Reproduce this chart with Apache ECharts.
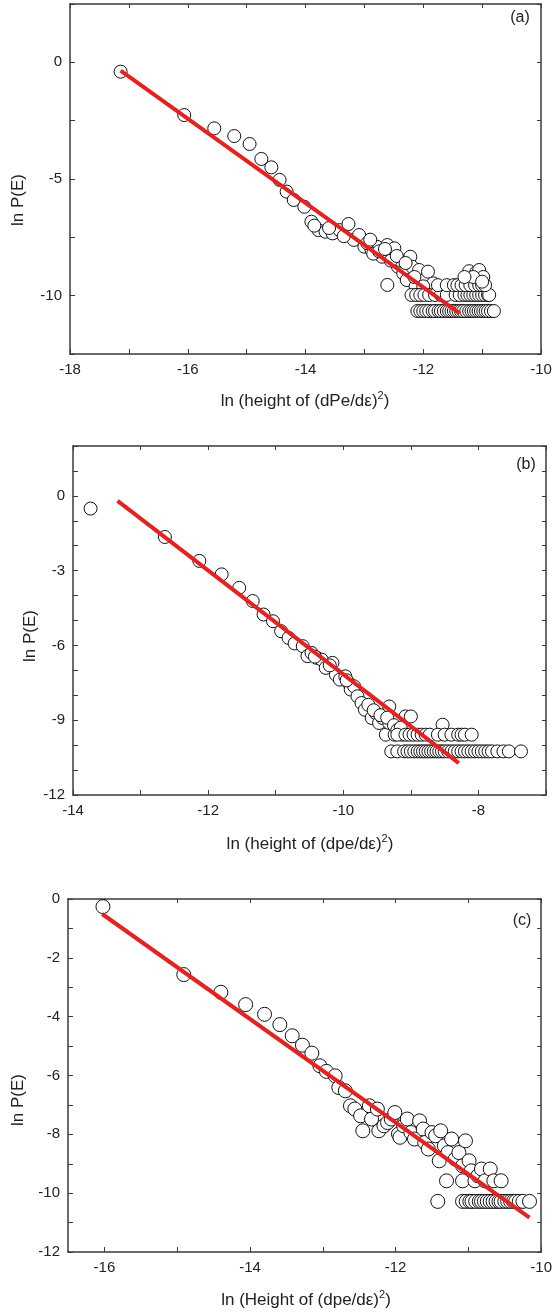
<!DOCTYPE html>
<html>
<head>
<meta charset="utf-8">
<script src="https://cdn.jsdelivr.net/npm/echarts@6/dist/echarts.min.js"></script>
<style>
html, body { margin: 0; background: #fff; }
#chart { width: 555px; height: 1314px; }
</style>
</head>
<body>
<div id="chart"></div>
<script>
// panel (a)
var pointsA = [
  [-17.14, -0.4], [-16.06, -2.26], [-15.55, -2.83], [-15.21, -3.16], [-14.95, -3.5],
  [-14.75, -4.14], [-14.58, -4.5], [-14.44, -5.04], [-14.32, -5.54], [-14.2, -5.9],
  [-14.02, -6.19], [-13.9, -6.83], [-13.78, -7.19], [-13.66, -7.26], [-13.54, -7.33],
  [-13.42, -7.19], [-13.27, -6.93], [-13.18, -7.61], [-13.09, -7.4], [-13.0, -7.9],
  [-12.88, -8.04], [-12.79, -7.9], [-12.7, -8.33], [-12.61, -7.83], [-12.61, -9.54],
  [-12.52, -8.19], [-12.49, -7.97], [-12.43, -8.76], [-12.4, -8.47], [-12.34, -9.04],
  [-12.28, -9.33], [-12.22, -8.33], [-12.19, -8.76], [-12.13, -9.61], [-12.07, -8.9],
  [-12.04, -9.9], [-11.98, -9.33], [-11.92, -8.97], [-11.89, -9.76], [-11.83, -9.47],
  [-11.77, -9.9], [-12.95, -7.75], [-12.85, -8.2], [-12.75, -8.1], [-12.55, -8.5],
  [-12.45, -8.3], [-12.3, -8.6], [-12.15, -9.2], [-12.0, -9.6], [-13.35, -7.45],
  [-13.6, -7.1], [-13.85, -7.0], [-12.9, -7.6], [-12.65, -8.0],
  [-12.2, -9.97], [-12.12, -9.97], [-12.05, -9.97], [-11.98, -9.97], [-11.9, -9.97],
  [-11.8, -9.97], [-11.7, -9.97], [-11.6, -9.97], [-11.45, -9.97], [-11.38, -9.97], [-11.3, -9.97],
  [-11.25, -9.97], [-11.2, -9.97], [-11.15, -9.97], [-11.1, -9.97], [-11.05, -9.97],
  [-11.0, -9.97], [-10.95, -9.97], [-10.9, -9.97], [-10.88, -9.97],
  [-11.75, -9.55], [-11.6, -9.55], [-11.48, -9.55], [-11.42, -9.55], [-11.35, -9.55],
  [-11.28, -9.55], [-11.2, -9.55], [-11.12, -9.55], [-11.05, -9.55], [-11.0, -9.55],
  [-10.95, -9.55],
  [-11.22, -8.95], [-11.1, -9.0], [-11.05, -8.9], [-10.98, -9.2], [-11.15, -9.2],
  [-11.0, -9.4], [-11.3, -9.2],
  [-12.1, -10.66], [-12.05, -10.66], [-12.0, -10.66], [-11.95, -10.66], [-11.9, -10.66],
  [-11.84, -10.66], [-11.8, -10.66], [-11.74, -10.66], [-11.7, -10.66], [-11.65, -10.66],
  [-11.6, -10.66], [-11.56, -10.66], [-11.52, -10.66], [-11.48, -10.66], [-11.44, -10.66],
  [-11.4, -10.66], [-11.36, -10.66], [-11.32, -10.66], [-11.27, -10.66], [-11.22, -10.66],
  [-11.18, -10.66], [-11.14, -10.66], [-11.1, -10.66], [-11.06, -10.66], [-11.02, -10.66],
  [-10.98, -10.66], [-10.94, -10.66], [-10.9, -10.66], [-10.85, -10.66], [-10.8, -10.66]
];
var fitA = [[-17.14, -0.36], [-11.38, -10.76]];
var xTicksA = [-18, -17, -16, -15, -14, -13, -12, -11, -10];
var xLabelsA = [-18, -16, -14, -12, -10];
var yTicksA = [2.5, 0, -2.5, -5, -7.5, -10, -12.5];
var yLabelsA = [0, -5, -10];

// panel (b)
var pointsB = [
  [-13.74, -0.51], [-12.64, -1.65], [-12.13, -2.61], [-11.8, -3.15], [-11.54, -3.69],
  [-11.34, -4.22], [-11.18, -4.76], [-11.04, -5.03], [-10.92, -5.43], [-10.81, -5.7],
  [-10.72, -5.92], [-10.6, -6.03], [-10.53, -6.43], [-10.47, -6.3], [-10.39, -6.5],
  [-10.32, -6.57], [-10.26, -6.9], [-10.16, -6.7], [-10.11, -7.17], [-10.05, -7.37],
  [-9.97, -7.24], [-9.92, -7.51], [-9.89, -7.77], [-9.84, -7.64], [-9.79, -8.04],
  [-9.73, -8.31], [-9.68, -8.58], [-9.63, -8.38], [-9.58, -8.91], [-9.52, -8.71],
  [-9.47, -9.11], [-9.42, -8.91], [-9.37, -9.58], [-9.32, -8.45], [-9.32, -9.11],
  [-9.24, -9.58], [-9.13, -9.58], [-9.08, -8.85], [-9.0, -8.85], [-8.53, -9.18],
  [-9.55, -8.6], [-9.45, -8.8], [-9.35, -8.9], [-9.25, -9.2], [-9.2, -9.4], [-9.15, -9.3],
  [-10.42, -6.45], [-10.2, -6.8], [-9.95, -7.4],
  [-9.2, -9.58], [-9.08, -9.58], [-9.02, -9.58], [-8.96, -9.58], [-8.9, -9.58],
  [-8.84, -9.58], [-8.78, -9.58], [-8.72, -9.58], [-8.6, -9.58], [-8.5, -9.58],
  [-8.4, -9.58], [-8.3, -9.58], [-8.25, -9.58], [-8.2, -9.58], [-8.1, -9.58],
  [-9.29, -10.25], [-9.2, -10.25], [-9.1, -10.25], [-9.05, -10.25], [-9.0, -10.25],
  [-8.95, -10.25], [-8.9, -10.25], [-8.86, -10.25], [-8.82, -10.25], [-8.78, -10.25],
  [-8.74, -10.25], [-8.7, -10.25], [-8.66, -10.25], [-8.62, -10.25], [-8.58, -10.25],
  [-8.54, -10.25], [-8.5, -10.25], [-8.45, -10.25], [-8.4, -10.25], [-8.35, -10.25],
  [-8.3, -10.25], [-8.25, -10.25], [-8.2, -10.25], [-8.15, -10.25], [-8.1, -10.25],
  [-8.05, -10.25], [-8.0, -10.25], [-7.95, -10.25], [-7.9, -10.25], [-7.85, -10.25],
  [-7.8, -10.25], [-7.72, -10.25], [-7.63, -10.25], [-7.55, -10.25], [-7.37, -10.25]
];
var fitB = [[-13.34, -0.2], [-8.29, -10.72]];
var xTicksB = [-14, -13, -12, -11, -10, -9, -8, -7];
var xLabelsB = [-14, -12, -10, -8];
var yTicksB = [2, 1, 0, -1, -2, -3, -4, -5, -6, -7, -8, -9, -10, -11, -12];
var yLabelsB = [0, -3, -6, -9, -12];

// panel (c)
var pointsC = [
  [-16.02, -0.26], [-14.91, -2.57], [-14.4, -3.17], [-14.06, -3.59], [-13.8, -3.92],
  [-13.59, -4.27], [-13.42, -4.65], [-13.28, -4.97], [-13.15, -5.24], [-13.04, -5.67],
  [-12.95, -5.86], [-12.83, -6.01], [-12.78, -6.41], [-12.69, -6.52], [-12.62, -7.03],
  [-12.56, -7.14], [-12.48, -7.37], [-12.45, -7.88], [-12.36, -7.03], [-12.33, -7.48],
  [-12.25, -7.14], [-12.23, -7.88], [-12.16, -7.71], [-12.11, -7.6], [-12.06, -7.48],
  [-12.01, -7.26], [-11.96, -7.99], [-11.94, -8.1], [-11.89, -7.71], [-11.84, -7.48],
  [-11.79, -7.94], [-11.74, -8.16], [-11.67, -7.54], [-11.62, -7.82], [-11.6, -8.28],
  [-11.55, -8.5], [-11.5, -7.94], [-11.45, -8.05], [-11.4, -8.9], [-11.38, -7.88],
  [-11.33, -8.39], [-11.3, -9.58], [-11.42, -10.28], [-11.28, -8.62], [-11.23, -8.16],
  [-11.18, -8.84], [-11.13, -8.62], [-11.08, -9.58], [-11.08, -9.07], [-11.04, -8.22],
  [-10.99, -8.9], [-10.96, -9.24], [-10.91, -9.58], [-10.87, -9.41], [-10.82, -9.18],
  [-10.77, -9.58], [-10.7, -9.18], [-10.65, -9.58], [-10.55, -9.58],
  [-11.08, -10.28], [-11.03, -10.28], [-10.98, -10.28], [-10.95, -10.28], [-10.9, -10.28],
  [-10.85, -10.28], [-10.82, -10.28], [-10.78, -10.28], [-10.74, -10.28], [-10.7, -10.28],
  [-10.66, -10.28], [-10.62, -10.28], [-10.58, -10.28], [-10.55, -10.28], [-10.5, -10.28],
  [-10.46, -10.28], [-10.42, -10.28], [-10.38, -10.28], [-10.35, -10.28], [-10.3, -10.28],
  [-10.25, -10.28], [-10.16, -10.28]
];
var fitC = [[-16.03, -0.51], [-10.16, -10.83]];
var xTicksC = [-16, -15, -14, -13, -12, -11, -10];
var xLabelsC = [-16, -14, -12, -10];
var yTicksC = [0, -1, -2, -3, -4, -5, -6, -7, -8, -9, -10, -11, -12];
var yLabelsC = [0, -2, -4, -6, -8, -10, -12];

var panels = [
  {pts: pointsA, fit: fitA, xr: [-18, -10], yr: [-12.5, 2.5], xt: xTicksA, xl: xLabelsA, yt: yTicksA, yl: yLabelsA,
   grid: {left: 70, top: 4, width: 471, height: 350}, size: 13, tag: '(a)', tagPos: [520, 18],
   xName: 'ln (height of (dPe/d\u03b5){s|2})', xNamePos: [305, 401], yNamePos: [18, 200]},
  {pts: pointsB, fit: fitB, xr: [-14, -7], yr: [-12, 2], xt: xTicksB, xl: xLabelsB, yt: yTicksB, yl: yLabelsB,
   grid: {left: 73, top: 446, width: 473, height: 349}, size: 13, tag: '(b)', tagPos: [526, 465],
   xName: 'ln (height of (dpe/d\u03b5){s|2})', xNamePos: [310, 844], yNamePos: [30, 636]},
  {pts: pointsC, fit: fitC, xr: [-16.5, -10], yr: [-12, 0], xt: xTicksC, xl: xLabelsC, yt: yTicksC, yl: yLabelsC,
   grid: {left: 68, top: 899, width: 476, height: 353}, size: 14, tag: '(c)', tagPos: [522, 921],
   xName: 'ln (Height of (dpe/d\u03b5){s|2})', xNamePos: [306, 1300], yNamePos: [18, 1100]}
];

var font = 'Liberation Sans, Arial, sans-serif';
var frame = {show: true, onZero: false, lineStyle: {color: '#3a3a3a', width: 1.5}};
var grids = [], xAxes = [], yAxes = [], series = [], graphics = [];

panels.forEach(function (p, i) {
  grids.push(p.grid);
  xAxes.push({
    type: 'value', gridIndex: i, position: 'bottom', min: p.xr[0], max: p.xr[1],
    axisLine: frame, splitLine: {show: false},
    axisTick: {inside: true, length: 5, customValues: p.xt, lineStyle: {color: '#3a3a3a'}},
    axisLabel: {customValues: p.xl, color: '#222', fontSize: 15, fontFamily: font, margin: 8}
  });
  xAxes.push({
    type: 'value', gridIndex: i, position: 'top', min: p.xr[0], max: p.xr[1],
    axisLine: frame, splitLine: {show: false},
    axisTick: {inside: true, length: 4, customValues: p.xt, lineStyle: {color: '#3a3a3a'}},
    axisLabel: {show: false}
  });
  yAxes.push({
    type: 'value', gridIndex: i, position: 'left', min: p.yr[0], max: p.yr[1],
    axisLine: frame, splitLine: {show: false},
    axisTick: {inside: true, length: 5, customValues: p.yt, lineStyle: {color: '#3a3a3a'}},
    axisLabel: {customValues: p.yl, color: '#222', fontSize: 15, fontFamily: font, margin: 8}
  });
  yAxes.push({
    type: 'value', gridIndex: i, position: 'right', min: p.yr[0], max: p.yr[1],
    axisLine: frame, splitLine: {show: false},
    axisTick: {inside: true, length: 4, customValues: p.yt, lineStyle: {color: '#3a3a3a'}},
    axisLabel: {show: false}
  });
  series.push({
    type: 'scatter', xAxisIndex: 2 * i, yAxisIndex: 2 * i, data: p.pts,
    symbol: 'circle', symbolSize: p.size, z: 2,
    itemStyle: {color: '#fff', borderColor: '#111', borderWidth: 1, opacity: 1}
  });
  series.push({
    type: 'line', xAxisIndex: 2 * i, yAxisIndex: 2 * i, data: p.fit,
    symbol: 'none', z: 3, lineStyle: {color: '#e52222', width: 4}
  });
  graphics.push({
    type: 'text', x: p.tagPos[0], y: p.tagPos[1],
    style: {text: p.tag, fill: '#222', fontSize: 16, fontFamily: font, align: 'center', verticalAlign: 'middle'}
  });
  graphics.push({
    type: 'text', x: p.xNamePos[0], y: p.xNamePos[1],
    style: {text: p.xName, fill: '#222', fontSize: 17, fontFamily: font, align: 'center', verticalAlign: 'middle',
      rich: {s: {fontSize: 11, fontFamily: font, fill: '#222', padding: [0, 0, 10, 0]}}}
  });
  graphics.push({
    type: 'text', x: p.yNamePos[0], y: p.yNamePos[1], rotation: Math.PI / 2,
    style: {text: 'ln P(E)', fill: '#222', fontSize: 17, fontFamily: font, align: 'center', verticalAlign: 'middle'}
  });
});

var chart = echarts.init(document.getElementById('chart'));
chart.setOption({
  animation: false,
  backgroundColor: '#fff',
  grid: grids,
  xAxis: xAxes,
  yAxis: yAxes,
  series: series,
  graphic: graphics
});
</script>
</body>
</html>
